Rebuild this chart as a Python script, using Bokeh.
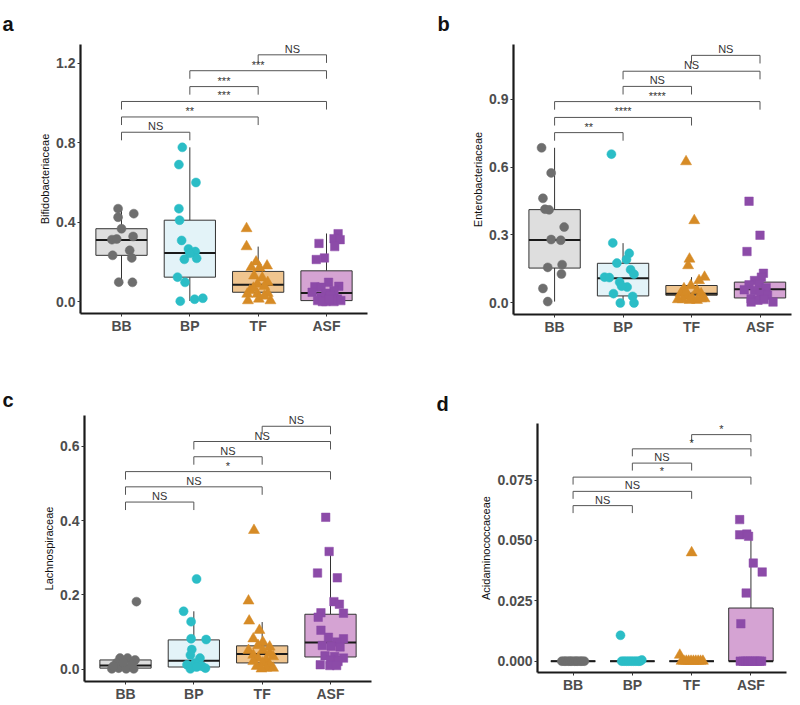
import numpy as np
from bokeh.plotting import figure
from bokeh.layouts import column, row
from bokeh.models import FixedTicker, Range1d, PrintfTickFormatter
from bokeh.embed import file_html
from bokeh.resources import INLINE
from bokeh.core.properties import value

# ---------------- data ----------------
GROUPS = ["BB", "BP", "TF", "ASF"]
PAIRS = [(0, 1), (0, 2), (0, 3), (1, 2), (1, 3), (2, 3)]

# Panel a: Bifidobacteriaceae
A_BB = [0.468, 0.443, 0.425, 0.367, 0.312, 0.315, 0.328, 0.258, 0.233, 0.22, 0.098, 0.097]
A_BB_DX = [-0.05, 0.18, -0.05, 0.0, -0.14, -0.07, 0.17, 0.12, -0.13, 0.15, -0.04, 0.16]
A_BP = [0.777, 0.69, 0.6, 0.468, 0.41, 0.308, 0.265, 0.252, 0.213, 0.218, 0.243, 0.123, 0.097, 0.002, 0.012, 0.017]
A_BP_DX = [-0.11, -0.16, 0.09, -0.16, -0.15, -0.12, -0.02, 0.08, -0.08, 0.10, 0.0, -0.18, -0.07, -0.14, 0.07, 0.19]
A_TF = [0.368, 0.277, 0.2, 0.18, 0.172, 0.17, 0.13, 0.12, 0.097, 0.088, 0.077, 0.055, 0.038, 0.038, 0.042, 0.005, 0.013, 0.005, 0.028, 0.068]
A_TF_DX = [-0.17, -0.17, -0.03, 0.13, -0.10, 0.02, -0.06, 0.06, 0.14, -0.01, 0.09, -0.12, -0.01, -0.16, 0.14, -0.15, 0.01, 0.18, 0.09, -0.07]
A_ASF = [0.342, 0.317, 0.312, 0.293, 0.277, 0.22, 0.212, 0.097, 0.077, 0.075, 0.072, 0.055, 0.047, 0.042, 0.022, 0.03, 0.013, 0.005, 0.0, 0.0, 0.005, 0.0, 0.013]
A_ASF_DX = [0.17, 0.11, 0.2, -0.11, 0.12, -0.03, -0.15, 0.03, 0.18, -0.17, -0.08, 0.11, -0.21, -0.01, -0.08, 0.06, 0.16, -0.13, -0.01, 0.11, 0.21, -0.06, 0.04]
A_LO = [0.097, 0.003, 0.0, 0.0]
A_Q1 = [0.233, 0.123, 0.047, 0.005]
A_MED = [0.31, 0.245, 0.085, 0.043]
A_Q3 = [0.367, 0.41, 0.152, 0.155]
A_HI = [0.468, 0.777, 0.277, 0.343]
A_SIG = ["NS", "**", "***", "***", "***", "NS"]
A_SIG_Y = [0.853, 0.93, 1.008, 1.083, 1.163, 1.243]
A_TICKS = [0.0, 0.4, 0.8, 1.2]

# Panel b: Enterobacteriaceae
B_BB = [0.685, 0.574, 0.462, 0.414, 0.411, 0.335, 0.28, 0.277, 0.157, 0.169, 0.128, 0.064, 0.006]
B_BB_DX = [-0.19, -0.05, -0.17, -0.14, -0.08, 0.14, -0.05, 0.09, -0.10, 0.11, 0.10, -0.17, -0.10]
B_BP = [0.657, 0.265, 0.219, 0.192, 0.176, 0.147, 0.127, 0.114, 0.112, 0.092, 0.07, 0.041, 0.074, 0.029, 0.0, 0.0]
B_BP_DX = [-0.17, -0.15, 0.09, 0.05, -0.09, 0.11, 0.16, -0.27, -0.2, -0.05, 0.06, -0.14, -0.02, 0.14, -0.04, 0.16]
B_TF = [0.624, 0.364, 0.194, 0.165, 0.114, 0.099, 0.077, 0.063, 0.055, 0.041, 0.031, 0.041, 0.015, 0.022, 0.019, 0.015, 0.012, 0.048, 0.019, 0.012]
B_TF_DX = [-0.08, 0.04, -0.03, -0.05, 0.19, 0.11, -0.01, -0.11, 0.08, -0.16, -0.06, 0.14, -0.13, 0.01, 0.19, -0.2, 0.08, -0.08, 0.14, -0.03]
B_ASF = [0.449, 0.299, 0.227, 0.131, 0.114, 0.099, 0.08, 0.084, 0.067, 0.058, 0.055, 0.041, 0.034, 0.019, 0.004, 0.012, 0.015, 0.004]
B_ASF_DX = [-0.16, 0.0, -0.19, 0.05, 0.02, -0.08, -0.16, -0.01, 0.09, -0.23, -0.08, 0.01, 0.11, -0.13, 0.19, -0.03, 0.06, -0.13]
B_LO = [0.006, 0.0, 0.01, 0.0]
B_Q1 = [0.154, 0.031, 0.034, 0.022]
B_MED = [0.278, 0.109, 0.041, 0.06]
B_Q3 = [0.412, 0.175, 0.077, 0.092]
B_HI = [0.685, 0.264, 0.114, 0.131]
B_SIG = ["**", "****", "****", "NS", "NS", "NS"]
B_SIG_Y = [0.752, 0.819, 0.889, 0.956, 1.023, 1.093]
B_TICKS = [0.0, 0.3, 0.6, 0.9]

# Panel c: Lachnospiraceae
C_BB = [0.182, 0.03, 0.03, 0.025, 0.001, 0.003, 0.001, 0.001, 0.017, 0.018, 0.012, 0.008]
C_BB_DX = [0.16, -0.08, 0.03, 0.14, -0.2, -0.1, 0.01, 0.12, -0.13, -0.03, 0.09, -0.18]
C_BP = [0.243, 0.156, 0.128, 0.082, 0.08, 0.053, 0.038, 0.03, 0.017, 0.012, 0.008, 0.001, 0.003, 0.006]
C_BP_DX = [0.04, -0.15, -0.04, -0.04, 0.18, -0.03, -0.05, 0.09, 0.02, -0.1, 0.12, -0.05, 0.17, 0.04]
C_TF = [0.374, 0.184, 0.13, 0.105, 0.082, 0.073, 0.064, 0.06, 0.051, 0.051, 0.038, 0.043, 0.03, 0.025, 0.034, 0.017, 0.012, 0.008, 0.003, 0.003, 0.001, 0.021]
C_TF_DX = [-0.12, -0.2, -0.19, -0.04, -0.13, 0.01, -0.06, 0.11, -0.2, 0.01, -0.13, 0.11, -0.06, 0.06, 0.16, 0.01, 0.11, -0.08, 0.06, 0.16, -0.01, -0.13]
C_ASF = [0.409, 0.317, 0.259, 0.246, 0.182, 0.175, 0.152, 0.151, 0.14, 0.105, 0.086, 0.082, 0.073, 0.064, 0.062, 0.06, 0.036, 0.034, 0.03, 0.025, 0.021, 0.012, 0.01, 0.01]
C_ASF_DX = [-0.07, -0.02, -0.19, 0.1, 0.05, 0.13, -0.14, 0.19, -0.18, -0.14, -0.03, 0.19, 0.09, -0.12, 0.01, 0.14, -0.08, 0.06, 0.19, 0.0, 0.11, -0.15, -0.01, 0.09]
C_LO = [0.0, 0.0, 0.0, 0.01]
C_Q1 = [0.003, 0.006, 0.017, 0.033]
C_MED = [0.01, 0.023, 0.041, 0.072]
C_Q3 = [0.025, 0.079, 0.063, 0.148]
C_HI = [0.03, 0.156, 0.127, 0.317]
C_SIG = ["NS", "NS", "*", "NS", "NS", "NS"]
C_SIG_Y = [0.45, 0.491, 0.532, 0.572, 0.613, 0.654]
C_TICKS = [0.0, 0.2, 0.4, 0.6]

# Panel d: Acidaminococcaceae
D_BB = [0.0] * 12
D_BB_DX = [-0.19, -0.15, -0.12, -0.08, -0.05, -0.02, 0.02, 0.05, 0.08, 0.12, 0.15, 0.19]
D_BP = [0.0107, 0.0, 0.0, 0.0, 0.0, 0.0, 0.0, 0.0, 0.0, 0.0, 0.0005]
D_BP_DX = [-0.2, -0.18, -0.14, -0.1, -0.06, -0.02, 0.02, 0.06, 0.1, 0.13, 0.16]
D_TF = [0.0449, 0.0025, 0.0, 0.0, 0.0, 0.0, 0.0, 0.0, 0.0, 0.0, 0.0, 0.0]
D_TF_DX = [0.0, -0.2, -0.17, -0.13, -0.09, -0.05, -0.01, 0.03, 0.07, 0.11, 0.15, 0.19]
D_ASF = [0.0586, 0.0523, 0.0526, 0.0517, 0.0406, 0.0369, 0.0282, 0.0155, 0.0, 0.0, 0.0, 0.0, 0.0, 0.0, 0.0, 0.0, 0.0, 0.0]
D_ASF_DX = [-0.19, -0.19, -0.07, -0.04, 0.04, 0.19, -0.08, -0.17, -0.18, -0.13, -0.09, -0.05, -0.01, 0.03, 0.07, 0.11, 0.15, 0.18]
D_LO = [0.0, 0.0, 0.0, 0.0]
D_Q1 = [0.0, 0.0, 0.0, 0.0]
D_MED = [0.0, 0.0, 0.0, 0.0]
D_Q3 = [0.0, 0.0, 0.0, 0.022]
D_HI = [0.0, 0.0, 0.0, 0.0523]
D_SIG = ["NS", "NS", "*", "NS", "*", "*"]
D_SIG_Y = [0.0644, 0.0703, 0.0762, 0.082, 0.0879, 0.0938]
D_TICKS = [0.0, 0.025, 0.05, 0.075]

# ---------------- style ----------------
COLORS = ["#6e6e6e", "#2bbdc6", "#d68b26", "#8c4ba8"]
FILLS = ["#dedede", "#e3f3f8", "#f0c58f", "#d5a3d3"]
MARKERS = ["circle", "circle", "triangle", "square"]
SIZES = [9, 9, 11, 8.5]
FONT = "Liberation Sans"


def make_panel(letter, ylabel, ys, dxs, lo, q1, med, q3, hi, sig, sig_y,
               yticks, fmt, yr, xr, W, H, borders, letter_off, letter_standoff):
    bl, br, bt, bb = borders
    p = figure(width=W, height=H, output_backend="svg", toolbar_location=None,
               x_range=Range1d(*xr), y_range=Range1d(*yr),
               min_border_left=bl, min_border_right=br,
               min_border_top=bt, min_border_bottom=bb,
               title=letter)
    p.frame_align = False
    p.title.align = "left"
    p.title.offset = letter_off
    p.title.text_font = FONT
    p.title.text_font_style = "bold"
    p.title.text_font_size = "20px"
    p.title.text_color = "#111111"
    p.title.standoff = letter_standoff
    p.xgrid.visible = False
    p.ygrid.visible = False
    p.outline_line_color = None
    p.background_fill_color = "white"
    p.border_fill_color = "white"

    xs = np.arange(1, 5, dtype=float)
    hw = 0.375
    p.segment(x0=xs, y0=q3, x1=xs, y1=hi, line_color="#333333", line_width=1)
    p.segment(x0=xs, y0=lo, x1=xs, y1=q1, line_color="#333333", line_width=1)
    p.quad(left=xs - hw, right=xs + hw, bottom=q1, top=q3,
           fill_color=FILLS, line_color="#333333", line_width=1)
    p.segment(x0=xs - hw, y0=med, x1=xs + hw, y1=med, line_color="#1a1a1a", line_width=2)

    for i in range(4):
        px = (i + 1) + np.array(dxs[i])
        p.scatter(x=px, y=ys[i], marker=MARKERS[i], size=SIZES[i],
                  fill_color=COLORS[i], line_color=COLORS[i], line_width=0.5)

    span = yr[1] - yr[0]
    tip = 0.03 * span
    bx, by, mx = [], [], []
    for k, (i, j) in enumerate(PAIRS):
        x0, x1 = i + 1, j + 1
        y = sig_y[k]
        bx.append([x0, x0, x1, x1])
        by.append([y - tip, y, y, y - tip])
        mx.append((x0 + x1) / 2)
    p.multi_line(xs=bx, ys=by, line_color="#555555", line_width=1)
    p.text(x=mx, y=sig_y, text=sig, text_align="center", text_baseline="bottom",
           text_font_size="11px", text_color="#333333", text_font=value(FONT))

    p.xaxis.ticker = FixedTicker(ticks=[1, 2, 3, 4])
    p.xaxis.major_label_overrides = {float(k + 1): g for k, g in enumerate(GROUPS)}
    p.yaxis.ticker = FixedTicker(ticks=yticks)
    p.yaxis.formatter = PrintfTickFormatter(format=fmt)
    for ax in (p.xaxis[0], p.yaxis[0]):
        ax.axis_line_width = 2.2
        ax.axis_line_color = "#1a1a1a"
        ax.major_tick_line_color = "#333333"
        ax.major_tick_out = 3
        ax.major_tick_in = 0
        ax.minor_tick_line_color = None
        ax.major_label_text_font = FONT
        ax.major_label_text_font_style = "bold"
        ax.major_label_text_font_size = "14px"
        ax.major_label_text_color = "#4d4d4d"
        ax.major_label_standoff = 2
    p.xaxis.major_label_standoff = 1
    p.yaxis.axis_label = ylabel
    p.yaxis.axis_label_text_font = FONT
    p.yaxis.axis_label_text_font_style = "normal"
    p.yaxis.axis_label_text_font_size = "11px"
    p.yaxis.axis_label_text_color = "#111111"
    p.yaxis.axis_label_standoff = 2
    return p


pa = make_panel("a", "Bifidobacteriaceae",
                [A_BB, A_BP, A_TF, A_ASF], [A_BB_DX, A_BP_DX, A_TF_DX, A_ASF_DX],
                A_LO, A_Q1, A_MED, A_Q3, A_HI, A_SIG, A_SIG_Y, A_TICKS, "%.1f",
                (-0.06, 1.295), (0.4, 4.6), 392, 352, (80, 25, 42, 39), -78, 20)
pb = make_panel("b", "Enterobacteriaceae",
                [B_BB, B_BP, B_TF, B_ASF], [B_BB_DX, B_BP_DX, B_TF_DX, B_ASF_DX],
                B_LO, B_Q1, B_MED, B_Q3, B_HI, B_SIG, B_SIG_Y, B_TICKS, "%.1f",
                (-0.051, 1.141), (0.4, 4.46), 400, 352, (121, 1, 42, 38), -76, 20)
pc = make_panel("c", "Lachnospiraceae",
                [C_BB, C_BP, C_TF, C_ASF], [C_BB_DX, C_BP_DX, C_TF_DX, C_ASF_DX],
                C_LO, C_Q1, C_MED, C_Q3, C_HI, C_SIG, C_SIG_Y, C_TICKS, "%.1f",
                (-0.033, 0.683), (0.4, 4.6), 392, 352, (84, 21, 63, 22), -82, 10)
pd_ = make_panel("d", "Acidaminococcaceae",
                 [D_BB, D_BP, D_TF, D_ASF], [D_BB_DX, D_BP_DX, D_TF_DX, D_ASF_DX],
                 D_LO, D_Q1, D_MED, D_Q3, D_HI, D_SIG, D_SIG_Y, D_TICKS, "%.3f",
                 (-0.0047, 0.0984), (0.4, 4.6), 400, 352, (145, 6, 71, 32), -101, 18)

layout = column(row(pa, pb), row(pc, pd_))
open("out.html", "w").write(file_html(layout, INLINE))
